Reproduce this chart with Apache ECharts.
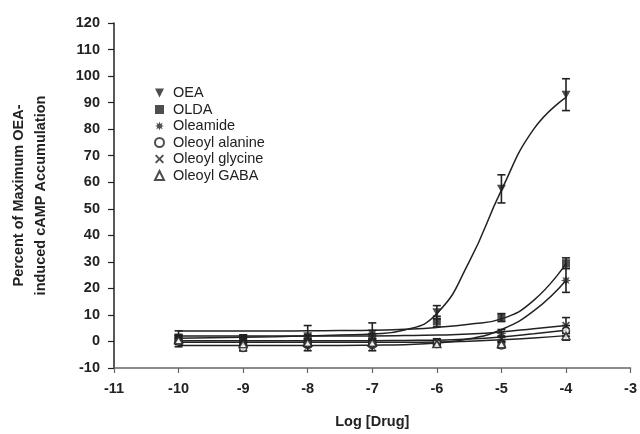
<!DOCTYPE html>
<html>
<head>
<meta charset="utf-8">
<script src="https://cdn.jsdelivr.net/npm/echarts@6/dist/echarts.min.js"></script>
<style>
  html, body { margin: 0; padding: 0; background: #fff; }
  #chart { width: 640px; height: 434px; }
</style>
</head>
<body>
<div id="chart"></div>
<script>
// doses (log M) where the points were measured
const doses = [-10, -9, -8, -7, -6, -5, -4];
const fitX = [-10, -9.5, -9, -8.5, -8, -7.5, -7, -6.5, -6, -5.5, -5, -4.5, -4];

const oeaMean = [1, 1, 2, 3, 11, 57.5, 93];
const oeaErr = [1.5, 1, 4, 4, 2.5, 5.3, 6];
const oeaFit = [1.2, 1.4, 1.6, 1.8, 2.1, 2.4, 2.8, 4.3, 10.5, 30, 57, 80, 92];

const oldaMean = [1.5, 1, 1, 1.5, 7.5, 9, 29.5];
const oldaErr = [2.5, 1.5, 1.5, 1.5, 2, 1.5, 2];
const oldaFit = [3.9, 3.9, 3.9, 3.9, 4, 4.1, 4.2, 4.6, 5.3, 6.5, 8.5, 15.5, 29.3];

const oleamideMean = [-0.5, -2, -2, -2, -1, 3, 23];
const oleamideErr = [1.5, 1.5, 1.5, 1.5, 1, 1.5, 4.5];
const oleamideFit = [-1.5, -1.5, -1.5, -1.5, -1.5, -1.5, -1.4, -1.2, -0.6, 1, 4.5, 11.5, 23];

const alanineMean = [0, -2.5, -1, -1, -0.5, -1.5, 4];
const alanineErr = [1, 1, 1, 1, 1, 1, 2];
const alanineFit = [0.3, 0.3, 0.3, 0.3, 0.3, 0.3, 0.3, 0.4, 0.5, 0.9, 1.7, 2.9, 4.2];

const glycineMean = [1, 0, 0, 0, 0, 1, 6];
const glycineErr = [1, 1, 1, 1, 1, 1, 3];
const glycineFit = [2.1, 2.1, 2.1, 2.1, 2.1, 2.1, 2.1, 2.2, 2.4, 2.8, 3.6, 4.8, 6];

const gabaMean = [0.5, -1, -0.5, -0.5, -1, -1, 2];
const gabaErr = [1, 1, 1, 1, 1, 1, 1.5];
const gabaFit = [-0.3, -0.3, -0.3, -0.3, -0.3, -0.3, -0.3, -0.3, -0.2, 0.1, 0.6, 1.3, 2.2];

const xTicks = { min: -11, max: -3, step: 1 };
const yTicks = { min: -10, max: 120, step: 10 };

const INK = '#222';
const FONT = 'Liberation Sans';

// marker shapes
const triDown = 'path://M0,0L10,0L5,10Z';
const star = 'path://M10,5L7.31,5.96L8.54,8.54L5.96,7.31L5,10L4.04,7.31L1.46,8.54L2.69,5.96L0,5L2.69,4.04L1.46,1.46L4.04,2.69L5,0L5.96,2.69L8.54,1.46L7.31,4.04Z';
const cross = 'path://M0,1.5L1.5,0L5,3.5L8.5,0L10,1.5L6.5,5L10,8.5L8.5,10L5,6.5L1.5,10L0,8.5L3.5,5Z';

const compounds = [
  { name: 'OEA', mean: oeaMean, err: oeaErr, fit: oeaFit, symbol: triDown, size: [9, 8], open: false },
  { name: 'OLDA', mean: oldaMean, err: oldaErr, fit: oldaFit, symbol: 'rect', size: 8, open: false },
  { name: 'Oleamide', mean: oleamideMean, err: oleamideErr, fit: oleamideFit, symbol: star, size: 10, open: false },
  { name: 'Oleoyl alanine', mean: alanineMean, err: alanineErr, fit: alanineFit, symbol: 'circle', size: 7, open: true },
  { name: 'Oleoyl glycine', mean: glycineMean, err: glycineErr, fit: glycineFit, symbol: cross, size: 8, open: false },
  { name: 'Oleoyl GABA', mean: gabaMean, err: gabaErr, fit: gabaFit, symbol: 'triangle', size: [8, 7], open: true }
];

function errorBars(params, api) {
  const x = api.value(0);
  const top = api.coord([x, api.value(2)]);
  const bot = api.coord([x, api.value(1)]);
  const cap = 4;
  const st = { stroke: INK, lineWidth: 1.6 };
  return {
    type: 'group',
    children: [
      { type: 'line', shape: { x1: top[0], y1: top[1], x2: bot[0], y2: bot[1] }, style: st },
      { type: 'line', shape: { x1: top[0] - cap, y1: top[1], x2: top[0] + cap, y2: top[1] }, style: st },
      { type: 'line', shape: { x1: bot[0] - cap, y1: bot[1], x2: bot[0] + cap, y2: bot[1] }, style: st }
    ]
  };
}

const series = [];
compounds.forEach(function (c) {
  series.push({
    name: c.name + ' fit',
    type: 'line',
    data: fitX.map((x, i) => [x, c.fit[i]]),
    smooth: 0.5,
    showSymbol: false,
    silent: true,
    color: INK,
    lineStyle: { color: INK, width: 1.5 },
    z: 2
  });
  series.push({
    name: c.name + ' err',
    type: 'custom',
    renderItem: errorBars,
    data: doses.map((x, i) => [x, c.mean[i] - c.err[i], c.mean[i] + c.err[i]]),
    encode: { x: 0, y: [1, 2] },
    silent: true,
    color: INK,
    z: 3
  });
  series.push({
    name: c.name,
    type: 'scatter',
    data: doses.map((x, i) => [x, c.mean[i]]),
    symbol: c.symbol,
    symbolSize: c.size,
    itemStyle: c.open
      ? { color: '#fff', borderColor: INK, borderWidth: 1.5 }
      : { color: INK },
    silent: true,
    z: 4
  });
});

const chart = echarts.init(document.getElementById('chart'));
chart.setOption({
  backgroundColor: '#fff',
  animation: false,
  textStyle: { fontFamily: FONT },
  grid: { left: 100, top: 23, width: 533, height: 355 },
  legend: {
    orient: 'vertical',
    left: 149,
    top: 80,
    itemWidth: 9,
    itemHeight: 9,
    itemGap: 0.5,
    data: compounds.map(c => c.name),
    textStyle: { fontFamily: FONT, fontSize: 14.5, color: INK, lineHeight: 16, padding: [0, 0, 0, 4] }
  },
  xAxis: {
    type: 'value',
    min: xTicks.min,
    max: xTicks.max,
    interval: xTicks.step,
    name: 'Log [Drug]',
    nameLocation: 'middle',
    nameGap: 46,
    nameTextStyle: { fontFamily: FONT, fontSize: 14.5, fontWeight: 'bold', color: INK },
    axisLine: { onZero: false, lineStyle: { color: '#666', width: 1.5 } },
    axisTick: { length: 5, lineStyle: { color: '#666', width: 1.2 } },
    axisLabel: { margin: 13, fontFamily: FONT, fontSize: 14.5, fontWeight: 'bold', color: INK },
    splitLine: { show: false }
  },
  yAxis: {
    type: 'value',
    min: yTicks.min,
    max: yTicks.max,
    interval: yTicks.step,
    name: 'Percent of Maximum OEA-\ninduced cAMP Accumulation',
    nameLocation: 'middle',
    nameRotate: 90,
    nameGap: 62,
    nameTextStyle: { fontFamily: FONT, fontSize: 14.5, fontWeight: 'bold', color: INK, lineHeight: 22 },
    axisLine: { show: true, onZero: false, lineStyle: { color: INK, width: 1.5 } },
    axisTick: { show: true, length: 6, lineStyle: { color: INK, width: 1.2 } },
    axisLabel: { margin: 14, fontFamily: FONT, fontSize: 14.5, fontWeight: 'bold', color: INK },
    splitLine: { show: false }
  },
  series: series
});
</script>
</body>
</html>
